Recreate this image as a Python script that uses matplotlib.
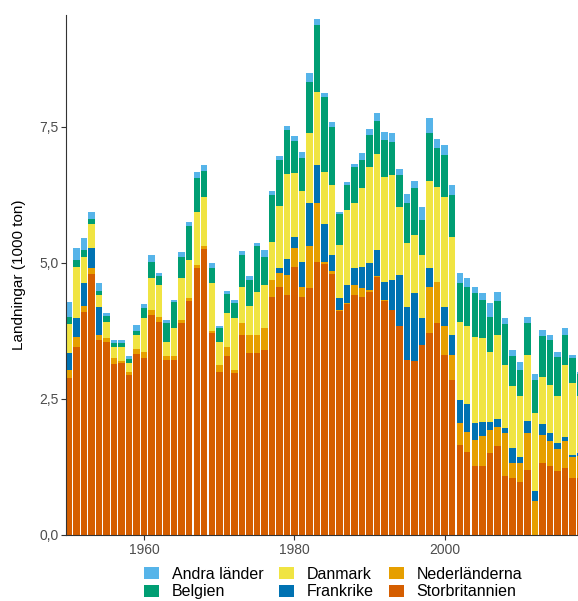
import matplotlib
matplotlib.use("Agg")
import matplotlib.pyplot as plt
from matplotlib.patches import Patch
import numpy as np

plt.rcParams['font.family'] = ['Liberation Sans', 'DejaVu Sans']

years = list(range(1950, 2019))

# Landings per country (1000 tonnes), stacked bottom to top
storbritannien = [2.88, 3.46, 4.10, 4.79, 3.58, 3.55, 3.14, 3.16, 2.94, 3.33,
                  3.25, 4.04, 3.92, 3.22, 3.22, 3.89, 4.29, 4.90, 5.25, 3.71,
                  3.00, 3.28, 2.98, 3.68, 3.34, 3.34, 3.40, 4.38, 4.55, 4.41,
                  4.93, 4.38, 4.53, 5.02, 4.98, 4.80, 4.11, 4.24, 4.40, 4.38,
                  4.47, 4.73, 4.29, 4.13, 3.83, 3.22, 3.19, 3.49, 3.71, 3.89,
                  3.31, 2.85, 1.66, 1.53, 1.26, 1.26, 1.50, 1.63, 1.08, 1.05,
                  0.98, 1.20, 0.00, 1.32, 1.26, 1.17, 1.23, 1.05, 1.05]
nederlanderna = [0.15, 0.18, 0.11, 0.11, 0.09, 0.06, 0.11, 0.04, 0.06, 0.08,
                 0.12, 0.09, 0.09, 0.06, 0.06, 0.06, 0.06, 0.06, 0.05, 0.03,
                 0.12, 0.18, 0.05, 0.21, 0.34, 0.34, 0.40, 0.30, 0.27, 0.37,
                 0.34, 0.18, 0.77, 1.07, 0.04, 0.04, 0.02, 0.02, 0.20, 0.15,
                 0.03, 0.02, 0.03, 0.00, 0.00, 0.00, 0.00, 0.00, 0.85, 0.76,
                 0.52, 0.46, 0.39, 0.37, 0.49, 0.55, 0.43, 0.36, 0.79, 0.27,
                 0.34, 0.67, 0.62, 0.52, 0.46, 0.41, 0.49, 0.38, 0.40]
frankrike = [0.32, 0.34, 0.41, 0.38, 0.51, 0.00, 0.00, 0.00, 0.00, 0.00,
             0.00, 0.00, 0.00, 0.00, 0.00, 0.00, 0.00, 0.00, 0.00, 0.00,
             0.00, 0.00, 0.00, 0.00, 0.00, 0.00, 0.00, 0.00, 0.08, 0.29,
             0.21, 0.46, 0.79, 0.71, 0.70, 0.30, 0.22, 0.33, 0.30, 0.40,
             0.49, 0.48, 0.33, 0.55, 0.95, 0.97, 1.25, 0.49, 0.34, 0.00,
             0.36, 0.37, 0.43, 0.51, 0.30, 0.27, 0.15, 0.14, 0.09, 0.28,
             0.12, 0.23, 0.18, 0.20, 0.15, 0.11, 0.08, 0.04, 0.05]
danmark = [0.53, 0.95, 0.49, 0.43, 0.22, 0.31, 0.20, 0.25, 0.16, 0.26,
           0.61, 0.59, 0.58, 0.27, 0.52, 0.77, 0.70, 0.98, 0.91, 0.88,
           0.43, 0.61, 0.95, 0.67, 0.52, 0.79, 0.79, 0.71, 1.15, 1.56,
           1.16, 1.29, 1.30, 1.34, 0.95, 1.29, 0.98, 1.38, 1.20, 1.44,
           1.77, 1.77, 1.92, 1.93, 1.25, 1.17, 1.07, 1.16, 1.60, 1.74,
           2.02, 1.80, 1.44, 1.42, 1.59, 1.53, 1.29, 1.55, 1.16, 1.13,
           1.12, 1.21, 1.44, 0.87, 0.89, 0.87, 1.32, 1.32, 1.05]
belgien = [0.13, 0.12, 0.12, 0.09, 0.09, 0.10, 0.07, 0.07, 0.07, 0.08,
           0.19, 0.30, 0.16, 0.34, 0.47, 0.39, 0.63, 0.61, 0.48, 0.28,
           0.25, 0.36, 0.28, 0.58, 0.49, 0.83, 0.52, 0.85, 0.83, 0.81,
           0.60, 0.61, 0.93, 1.22, 1.37, 1.07, 0.57, 0.46, 0.65, 0.52,
           0.58, 0.61, 0.68, 0.61, 0.58, 0.73, 0.86, 0.65, 0.88, 0.71,
           0.77, 0.76, 0.70, 0.73, 0.80, 0.71, 0.64, 0.61, 0.76, 0.55,
           0.47, 0.58, 0.60, 0.75, 0.82, 0.71, 0.56, 0.46, 0.40]
andra_lander = [0.26, 0.22, 0.22, 0.14, 0.13, 0.05, 0.06, 0.06, 0.05, 0.11,
                0.08, 0.12, 0.06, 0.06, 0.05, 0.09, 0.07, 0.12, 0.10, 0.09,
                0.04, 0.06, 0.06, 0.08, 0.06, 0.07, 0.13, 0.08, 0.08, 0.08,
                0.09, 0.12, 0.16, 0.11, 0.07, 0.09, 0.04, 0.06, 0.07, 0.12,
                0.11, 0.14, 0.16, 0.17, 0.12, 0.17, 0.14, 0.24, 0.27, 0.17,
                0.18, 0.19, 0.19, 0.16, 0.12, 0.13, 0.25, 0.18, 0.10, 0.12,
                0.14, 0.12, 0.12, 0.11, 0.10, 0.10, 0.12, 0.06, 0.05]

# Stacking order (bottom first) and colours
series = [
    ("Storbritannien", storbritannien, "#D55E00"),
    ("Nederländerna", nederlanderna, "#E69F00"),
    ("Frankrike", frankrike, "#0072B2"),
    ("Danmark", danmark, "#F0E442"),
    ("Belgien", belgien, "#009E73"),
    ("Andra länder", andra_lander, "#56B4E9"),
]
colors = {name: c for name, _, c in series}

W, H = 578, 601
fig = plt.figure(figsize=(W / 100, H / 100), dpi=100)

# axes in pixel coordinates (left, bottom from top)
x0, x1 = 66, 592
y_top, y_bot = 15, 535
ax = fig.add_axes([x0 / W, 1 - y_bot / H, (x1 - x0) / W, (y_bot - y_top) / H])

bottom = np.zeros(len(years))
for name, vals, col in series:
    v = np.array(vals)
    ax.bar(years, v, bottom=bottom, width=0.86, color=col, linewidth=0)
    bottom += v

ax.set_xlim(1949.6, 2019.6)
ax.set_ylim(0, 9.55)

ax.set_yticks([0, 2.5, 5.0, 7.5])
ax.set_yticklabels(["0,0", "2,5", "5,0", "7,5"])
ax.set_xticks([1960, 1980, 2000])
ax.tick_params(axis="both", colors="#333333", labelsize=10, length=3.5,
               width=0.8, labelcolor="#4D4D4D")
ax.tick_params(axis="x", pad=2)
ax.tick_params(axis="y", pad=2)

for s in ["top", "right"]:
    ax.spines[s].set_visible(False)
for s in ["left", "bottom"]:
    ax.spines[s].set_color("#333333")
    ax.spines[s].set_linewidth(0.8)

ax.set_ylabel("Landningar (1000 ton)", fontsize=11, color="black", labelpad=9)

legend_order = ["Andra länder", "Belgien", "Danmark", "Frankrike",
                "Nederländerna", "Storbritannien"]
handles = [Patch(facecolor=colors[n], edgecolor="none", label=n)
           for n in legend_order]
fig.legend(handles=handles, ncol=3, loc="center",
           bbox_to_anchor=(333 / W, 1 - 583 / H), frameon=False,
           fontsize=11.5, handlelength=0.95, handleheight=0.85,
           handletextpad=0.8, columnspacing=0.95, labelspacing=0.18,
           borderpad=0)

fig.savefig("out.png", dpi=100, facecolor="white")
